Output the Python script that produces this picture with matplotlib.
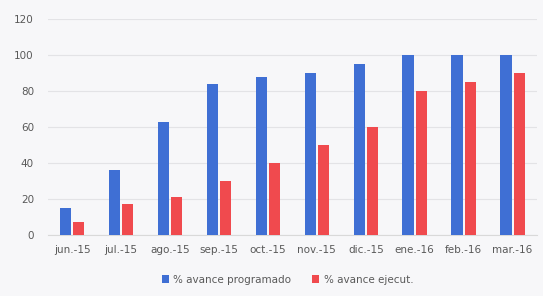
import numpy as np
import matplotlib.pyplot as plt

# ----------------------------------------------------
# Data
# ----------------------------------------------------
months = ["jun.-15", "jul.-15", "ago.-15", "sep.-15", "oct.-15",
          "nov.-15", "dic.-15", "ene.-16", "feb.-16", "mar.-16"]
programado = [15, 36, 63, 84, 88, 90, 95, 100, 100, 100]
ejecutado = [7, 17, 21, 30, 40, 50, 60, 80, 85, 90]

blue = "#3f6fd4"
red = "#f04a4e"
bg = "#f7f7f9"

fig = plt.figure(figsize=(5.43, 2.96), dpi=100, facecolor=bg)
ax = fig.add_axes([0.088, 0.206, 0.901, 0.730], facecolor=bg)

x = np.arange(len(months))
w = 0.23
ax.bar(x - w / 2 - 0.02, programado, width=w, color=blue, label="% avance programado", zorder=3)
ax.bar(x + w / 2 + 0.02, ejecutado, width=w, color=red, label="% avance ejecut.", zorder=3)

ax.set_xlim(-0.5, len(months) - 0.5)
ax.set_ylim(0, 120)
ax.set_yticks(range(0, 121, 20))
ax.set_xticks(x)
ax.set_xticklabels(months)
ax.tick_params(axis="both", length=0, labelsize=7.5, colors="#595959")
ax.tick_params(axis="x", pad=7)
ax.tick_params(axis="y", pad=10)
ax.grid(axis="y", color="#e3e3e6", linewidth=0.8, zorder=0)
for s in ["top", "right", "left"]:
    ax.spines[s].set_visible(False)
ax.spines["bottom"].set_color("#d9d9d9")

ax.legend(loc="upper center", bbox_to_anchor=(0.49, -0.14), ncol=2, frameon=False,
          fontsize=7.5, handlelength=0.7, handleheight=0.7, columnspacing=2.0,
          handletextpad=0.4, labelcolor="#595959")

fig.savefig("out.png", dpi=100, facecolor=bg)
